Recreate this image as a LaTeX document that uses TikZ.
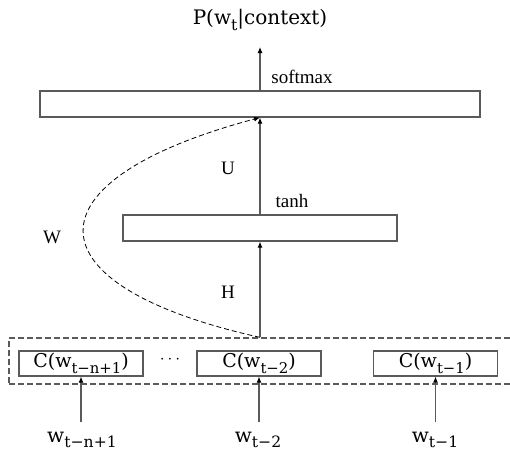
\documentclass[tikz,border=0pt]{standalone}
\usepackage{fontspec}
\setmainfont{Liberation Serif}
\newfontfamily\mfont{DejaVu Serif}
\usetikzlibrary{arrows.meta}
\definecolor{ln}{HTML}{5A5A5A}
\newcommand{\sbs}[1]{\raisebox{-0.28em}{\scalebox{0.78}{#1}}}
\tikzset{
  layer/.style={draw=ln, line width=1.1pt, rectangle, inner sep=0pt, minimum height=26pt},
  cbox/.style={draw=ln, line width=1.1pt, rectangle, inner sep=0pt, minimum height=25pt, minimum width=124pt, font=\mfont\fontsize{19}{22}\selectfont},
  lbl/.style={font=\fontsize{19}{22}\selectfont, inner sep=0pt},
  arr/.style={draw=ln, line width=1.1pt, -{Latex[length=6pt,width=5pt,color=black]}},
  wl/.style={font=\mfont\fontsize{20}{23}\selectfont, inner sep=0pt},
}
\begin{document}
\begin{tikzpicture}[x=1pt,y=-1pt]
\useasboundingbox (0,0) rectangle (510,453);
\node[layer, minimum width=440pt] (top) at (260,104) {};
\node[layer, minimum width=274pt] (mid) at (260,228) {};
\node[draw=ln, dashed, dash pattern=on 6pt off 3pt, line width=1.3pt, rectangle, inner sep=0pt, minimum width=511pt, minimum height=46pt] (emb) at (264.5,361) {};
\node[cbox] (c1) at (81,363.5) {C(w\sbs{t−n+1})};
\node[cbox] (c2) at (259,363.5) {C(w\sbs{t−2})};
\node[cbox] (c3) at (435.5,363.5) {C(w\sbs{t−1})};
\node[font=\mfont\fontsize{18}{20}\selectfont] (dots) at (170,360) {$\cdots$};
\node[font=\mfont\fontsize{20}{23}\selectfont, inner sep=1pt] (P) at (260,20) {P(w\sbs{t}|context)};
\node[wl] (w1) at (82,440) {w\sbs{t−n+1}};
\node[wl] (w2) at (258,440) {w\sbs{t−2}};
\node[wl] (w3) at (435,440) {w\sbs{t−1}};
\coordinate (t1) at (82,422);
\coordinate (t2) at (258,422);
\coordinate (t3) at (435,422);
\node[lbl] (sm) at (302,77) {softmax};
\node[lbl] (U) at (228,168) {U};
\node[lbl] (tanh) at (292,201) {tanh};
\node[lbl] (W) at (52,237) {W};
\node[lbl] (H) at (228,292) {H};
\coordinate (pe) at (260,47);
\draw[arr] (top.north -| pe) -- (pe);
\draw[arr] (mid.north -| pe) -- (top.south -| pe);
\draw[arr] (emb.north -| pe) -- (mid.south -| pe);
\draw[arr] (t1 -| c1.south) -- (c1.south);
\draw[arr] (t2 -| c2.south) -- (c2.south);
\draw[arr] (t3 -| c3.south) -- (c3.south);
\draw[black, line width=0.8pt, dash pattern=on 5pt off 3pt, -{Latex[length=6pt,width=5pt]}]
  (emb.north -| pe) .. controls (25,285) and (25,180) .. (top.south -| pe);
\end{tikzpicture}
\end{document}
